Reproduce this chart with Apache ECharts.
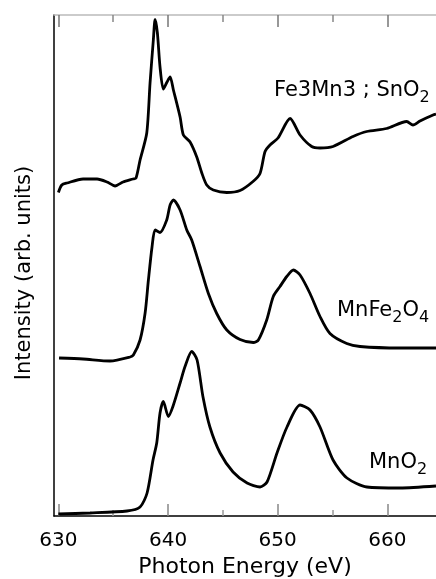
<!DOCTYPE html>
<html>
<head>
<meta charset="utf-8">
<script src="https://cdn.jsdelivr.net/npm/echarts@6/dist/echarts.min.js"></script>
<style>
  html, body { margin: 0; padding: 0; background: #fff; }
  #chart { width: 436px; height: 579px; }
</style>
</head>
<body>
<div id="chart"></div>
<script>
// Photon energy (eV) and intensity (arb. units)
const fe3mn3Energy = [630.0, 630.31, 630.79, 632.25, 633.53, 634.44, 635.17, 635.9, 636.81, 637.08, 637.45,
  638.06, 638.36, 638.66, 638.82, 639.03, 639.27, 639.57, 639.91, 640.19, 640.49, 641.1, 641.4, 642.01,
  642.62, 643.08, 643.53, 644.13, 645.36, 646.57, 647.75, 648.39, 648.85, 649.3, 650.03, 651.13, 652.04,
  653.1, 653.86, 655.05, 656.87, 658.12, 659.94, 661.77, 662.34, 662.98, 664.17, 664.44];
const fe3mn3Intensity = [64.7, 66.2, 66.6, 67.4, 67.4, 66.8, 66.0, 66.8, 67.4, 67.6, 71.2,
  76.6, 86.6, 95.2, 99.3, 96.6, 89.8, 85.4, 86.8, 87.8, 85.2, 79.8, 76.2, 74.8,
  71.8, 68.6, 66.2, 65.2, 64.7, 65.1, 66.9, 68.5, 72.9, 74.2, 75.6, 79.5, 76.2,
  73.9, 73.6, 73.9, 75.9, 76.9, 77.5, 78.9, 78.2, 79.0, 80.2, 80.4];

const mnfe2o4Energy = [630.06, 632.25, 634.71, 636.54, 636.84, 637.45, 637.91, 638.21, 638.54, 638.82, 639.27,
  639.88, 640.19, 640.49, 641.1, 641.71, 642.16, 642.92, 643.68, 644.44, 645.36, 646.57, 647.78, 648.24,
  649.0, 649.6, 650.21, 650.83, 651.43, 652.04, 652.95, 653.86, 654.77, 656.3, 657.51, 661.16, 664.44];
const mnfe2o4Intensity = [31.6, 31.4, 31.0, 31.8, 32.2, 35.2, 40.6, 47.2, 53.8, 57.2, 56.7,
  59.2, 62.2, 63.2, 61.2, 57.2, 55.2, 49.9, 44.5, 40.5, 37.2, 35.3, 34.7, 35.2,
  39.2, 43.9, 45.9, 47.9, 49.2, 48.2, 44.5, 39.9, 36.5, 34.5, 33.9, 33.6, 33.6];

const mno2Energy = [630.0, 632.89, 636.26, 637.45, 638.09, 638.63, 638.97, 639.27, 639.57, 640.03, 640.49,
  641.1, 641.55, 642.16, 642.65, 643.19, 643.82, 644.75, 645.93, 647.21, 648.39, 649.03, 649.94, 650.85,
  652.04, 652.95, 653.86, 655.05, 656.32, 658.14, 661.16, 664.44];
const mno2Intensity = [0.4, 0.6, 1.0, 1.8, 4.6, 11.2, 14.6, 20.6, 22.9, 19.9, 22.2,
  26.6, 29.9, 32.9, 31.2, 23.8, 17.8, 12.6, 8.8, 6.6, 5.8, 6.8, 12.6, 17.8,
  22.2, 21.2, 17.8, 11.2, 7.6, 5.8, 5.6, 6.0];

const majorTicks = [630, 640, 650, 660];
const minorTicks = [635, 645, 655];

const chart = echarts.init(document.getElementById("chart"));

const zip = (xs, ys) => xs.map((x, i) => [x, ys[i]]);

const lineSeries = (data) => ({
  type: "line",
  data: data,
  showSymbol: false,
  smooth: 0.25,
  lineStyle: { color: "#000", width: 2.8 },
  silent: true,
});

// shared settings for the four x axes (bottom/top, major/minor ticks)
const xBase = {
  type: "value",
  min: 629.6,
  max: 664.44,
  splitLine: { show: false },
};

const FONT = "DejaVu Sans";

const subRich = {
  m: { fontFamily: FONT, fontSize: 21, lineHeight: 30, fill: "#000" },
  s: { fontFamily: FONT, fontSize: 16, lineHeight: 16, verticalAlign: "bottom", fill: "#000" },
};

const label = (x, y, text) => ({
  type: "text",
  left: x,
  top: y,
  silent: true,
  style: { text: text, rich: subRich, fill: "#000" },
});

const option = {
  animation: false,
  backgroundColor: "#fff",
  grid: { left: 54, right: 0, top: 15, bottom: 63, outerBoundsMode: "none" },
  xAxis: [
    {
      ...xBase,
      position: "bottom",
      name: "Photon Energy (eV)",
      nameLocation: "middle",
      nameGap: 40,
      nameTextStyle: { fontFamily: FONT, fontSize: 22, color: "#000" },
      axisLine: { onZero: false, lineStyle: { color: "#000", width: 1.5 } },
      axisTick: { inside: true, length: 12, customValues: majorTicks, lineStyle: { color: "#888", width: 1.5 } },
      axisLabel: { customValues: majorTicks, fontFamily: FONT, fontSize: 20, color: "#000", margin: 15 },
    },
    {
      ...xBase,
      position: "bottom",
      axisLine: { show: false, onZero: false },
      axisTick: { inside: true, length: 6, customValues: minorTicks, lineStyle: { color: "#999", width: 1.5 } },
      axisLabel: { show: false },
    },
    {
      ...xBase,
      position: "top",
      axisLine: { onZero: false, lineStyle: { color: "#bbb", width: 1.5 } },
      axisTick: { inside: true, length: 12, customValues: majorTicks, lineStyle: { color: "#777", width: 1.5 } },
      axisLabel: { show: false },
    },
    {
      ...xBase,
      position: "top",
      axisLine: { show: false, onZero: false },
      axisTick: { inside: true, length: 7, customValues: minorTicks, lineStyle: { color: "#888", width: 1.5 } },
      axisLabel: { show: false },
    },
  ],
  yAxis: {
    type: "value",
    min: 0,
    max: 100.2,
    axisLine: { show: true, onZero: false, lineStyle: { color: "#000", width: 1.5 } },
    axisTick: { show: false },
    axisLabel: { show: false },
    splitLine: { show: false },
  },
  series: [
    lineSeries(zip(fe3mn3Energy, fe3mn3Intensity)),
    lineSeries(zip(mnfe2o4Energy, mnfe2o4Intensity)),
    lineSeries(zip(mno2Energy, mno2Intensity)),
  ],
  graphic: [
    {
      type: "text",
      x: 25,
      y: 273,
      rotation: Math.PI / 2,
      silent: true,
      style: {
        text: "Intensity (arb. units)",
        fontFamily: FONT,
        fontSize: 21,
        fill: "#000",
        align: "center",
        verticalAlign: "middle",
      },
    },
    label(274, 80, "{m|Fe3Mn3 ; SnO}{s|2}"),
    label(337, 300, "{m|MnFe}{s|2}{m|O}{s|4}"),
    label(369, 452, "{m|MnO}{s|2}"),
  ],
};

chart.setOption(option);
</script>
</body>
</html>
